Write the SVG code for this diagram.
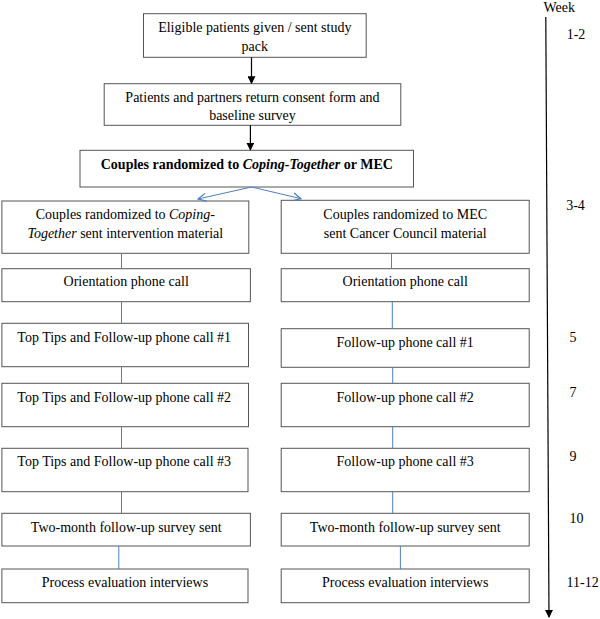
<svg xmlns="http://www.w3.org/2000/svg" width="600" height="619" viewBox="0 0 600 619">
<defs>
<marker id="ah" markerWidth="8" markerHeight="8" refX="7" refY="4" orient="auto" markerUnits="userSpaceOnUse"><path d="M0,0 L8,4 L0,8 z" fill="#000"/></marker>
<marker id="ob" markerWidth="10" markerHeight="10" refX="9" refY="5" orient="auto" markerUnits="userSpaceOnUse"><path d="M1,1 L9,5 L1,9" fill="none" stroke="#4a7ebb" stroke-width="1.2"/></marker>
</defs>
<style>
rect{fill:#fff;stroke:#555;stroke-width:1}
text{font-family:"Liberation Serif","Times New Roman",serif;font-size:14px;fill:#000;text-anchor:middle}
.wk{text-anchor:start}
.blue{stroke:#4f81bd;stroke-width:1;fill:none}
.blk{stroke:#000;stroke-width:1.2;fill:none}
</style>
<rect width="600" height="619" style="fill:#fff;stroke:none"/>
<g id="n1"><rect x="143.5" y="13.7" width="222.7" height="43.6"/><text x="254.8" y="32">Eligible patients given / sent study</text><text x="254.8" y="51">pack</text></g>
<g id="n2"><rect x="104.2" y="83.7" width="296.6" height="41.6"/><text x="252.5" y="101.6">Patients and partners return consent form and</text><text x="252.5" y="120.2">baseline survey</text></g>
<g id="n3"><rect x="80" y="150.3" width="333.5" height="36.7"/><text x="246.8" y="169" font-weight="bold">Couples randomized to <tspan font-style="italic">Coping-Together</tspan> or MEC</text></g>
<g id="a1"><rect x="1.9" y="201" width="246.9" height="52.3"/><text x="125.3" y="219.2">Couples randomized to <tspan font-style="italic">Coping-</tspan></text><text x="125.3" y="237.6"><tspan font-style="italic">Together</tspan> sent intervention material</text></g>
<g id="b1"><rect x="281.2" y="200.3" width="248" height="53"/><text x="405.2" y="219.2">Couples randomized to MEC</text><text x="405.2" y="237.6">sent Cancer Council material</text></g>
<g id="a2"><rect x="1.9" y="268.7" width="248.5" height="33"/><text x="126.2" y="285.6">Orientation phone call</text></g>
<g id="b2"><rect x="281.2" y="268.7" width="248" height="33"/><text x="405.2" y="285.6">Orientation phone call</text></g>
<g id="a3"><rect x="1.9" y="323.3" width="246.6" height="43.4"/><text x="124.2" y="342.2">Top Tips and Follow-up phone call #1</text></g>
<g id="b3"><rect x="281.2" y="328.7" width="248" height="38.6"/><text x="405.2" y="346.6">Follow-up phone call #1</text></g>
<g id="a4"><rect x="1.9" y="383.3" width="246.6" height="43.4"/><text x="124.2" y="401.6">Top Tips and Follow-up phone call #2</text></g>
<g id="b4"><rect x="281.2" y="383.3" width="248" height="43.4"/><text x="405.2" y="401.6">Follow-up phone call #2</text></g>
<g id="a5"><rect x="1.9" y="448.3" width="246.1" height="43.4"/><text x="124.2" y="465.9">Top Tips and Follow-up phone call #3</text></g>
<g id="b5"><rect x="281.2" y="448.3" width="248" height="43.4"/><text x="405.2" y="465.9">Follow-up phone call #3</text></g>
<g id="a6"><rect x="1.9" y="513.3" width="248.5" height="32.7"/><text x="126.2" y="531.6">Two-month follow-up survey sent</text></g>
<g id="b6"><rect x="281.2" y="513.3" width="248" height="32.7"/><text x="405.2" y="531.6">Two-month follow-up survey sent</text></g>
<g id="a7"><rect x="1.9" y="569" width="246.1" height="33.7"/><text x="124.9" y="587.2">Process evaluation interviews</text></g>
<g id="b7"><rect x="281.2" y="569" width="248" height="33.7"/><text x="405.2" y="587.2">Process evaluation interviews</text></g>
<g id="weeks">
<text class="wk" x="543.5" y="11.5">Week</text>
<text class="wk" x="566.7" y="39">1-2</text>
<text class="wk" x="566.2" y="210">3-4</text>
<text class="wk" x="569.5" y="341.6">5</text>
<text class="wk" x="569.5" y="396.6">7</text>
<text class="wk" x="569.5" y="461">9</text>
<text class="wk" x="569.5" y="523.2">10</text>
<text class="wk" x="566.5" y="586.7">11-12</text>
</g>
<g id="connectors">
<line class="blk" x1="251.5" y1="57.3" x2="251.5" y2="83.2" marker-end="url(#ah)"/>
<line class="blk" x1="250.4" y1="125.3" x2="250.4" y2="149.8" marker-end="url(#ah)"/>
<line class="blue" x1="251.5" y1="187" x2="198" y2="199" marker-end="url(#ob)"/>
<line class="blue" x1="251.5" y1="187" x2="301" y2="198.7" marker-end="url(#ob)"/>
<line class="blk" x1="545.8" y1="17" x2="549" y2="617" marker-end="url(#ah)"/>
<path class="blue" d="M121.5,253.3V268.7M121.5,301.7V323.3M121.5,366.7V383.3M121.5,426.7V448.3M121.5,491.7V513.3M118.8,546V569"/>
<path class="blue" d="M391.5,253.3V268.7M392.3,301.7V328.7M392.7,367.3V383.3M392.7,426.7V448.3M392.7,491.7V513.3M400.4,546V569"/>
</g>
</svg>
